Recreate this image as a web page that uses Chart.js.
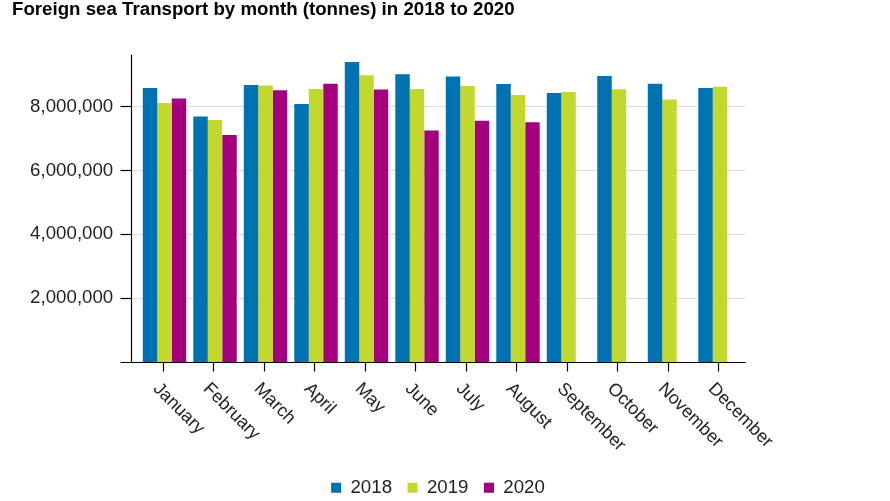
<!DOCTYPE html>
<html><head><meta charset="utf-8">
<script src="https://cdn.jsdelivr.net/npm/chart.js@4.4.0/dist/chart.umd.min.js"></script>
<style>html,body{margin:0;padding:0;background:#fff;overflow:hidden}</style>
</head><body>
<div style="width:890px;height:501px"><canvas id="c" width="890" height="501"></canvas></div>
<script>
const TITLE = "Foreign sea Transport by month (tonnes) in 2018 to 2020";
const months = ["January","February","March","April","May","June","July","August","September","October","November","December"];
const s2018 = [8575000,7690000,8670000,8080000,9390000,9010000,8940000,8700000,8420000,8950000,8710000,8575000];
const s2019 = [8110000,7580000,8660000,8550000,8980000,8550000,8640000,8360000,8450000,8540000,8220000,8620000];
const s2020 = [8250000,7110000,8510000,8710000,8530000,7250000,7550000,7510000,null,null,null,null];
const seriesNames = ["2018","2019","2020"];
const seriesColors = ["#0072b1","#c2d82e","#a4007e"];
const yTickValues = [2000000,4000000,6000000,8000000];
const yMax = 9620000;

const FONT = "Arial, 'Liberation Sans', sans-serif";

const axesPlugin = {
  id: 'axesPlugin',
  afterLayout(chart) {
    if (chart.legend) { chart.legend.left -= 13; chart.legend.right -= 13; }
  },
  beforeDatasetsDraw(chart) {
    const {ctx, chartArea} = chart;
    const ys = chart.scales.y;
    const axX = chartArea.left - 8.25;
    ctx.save();
    ctx.strokeStyle = '#dcdcdc';
    ctx.lineWidth = 1;
    yTickValues.forEach(v => {
      const y = Math.round(ys.getPixelForValue(v)) + 0.5;
      ctx.beginPath(); ctx.moveTo(axX, y); ctx.lineTo(chartArea.right, y); ctx.stroke();
    });
    ctx.restore();
  },
  afterDatasetsDraw(chart) {
    const {ctx, chartArea} = chart;
    const ys = chart.scales.y, xs = chart.scales.x;
    const axX = Math.round(chartArea.left - 8.25) + 0.5;
    const baseY = Math.round(ys.getPixelForValue(0)) + 0.5;
    ctx.save();
    ctx.strokeStyle = '#000';
    ctx.lineWidth = 1.2;
    ctx.beginPath(); ctx.moveTo(axX, chartArea.top); ctx.lineTo(axX, baseY); ctx.stroke();
    ctx.beginPath(); ctx.moveTo(axX - 11, baseY); ctx.lineTo(chartArea.right + 0.5, baseY); ctx.stroke();
    yTickValues.forEach(v => {
      const y = Math.round(ys.getPixelForValue(v)) + 0.5;
      ctx.beginPath(); ctx.moveTo(axX - 11, y); ctx.lineTo(axX, y); ctx.stroke();
    });
    ctx.font = "18px " + FONT;
    ctx.fillStyle = '#222';
    ctx.textAlign = 'left';
    ctx.textBaseline = 'alphabetic';
    months.forEach((m, i) => {
      const x = Math.round(xs.getPixelForValue(i)) - 1.5;
      ctx.beginPath(); ctx.moveTo(x, baseY); ctx.lineTo(x, baseY + 9); ctx.stroke();
      ctx.save();
      ctx.translate(x - 11, baseY + 27);
      ctx.rotate(Math.PI / 4);
      ctx.fillText(m, 0, 0);
      ctx.restore();
    });
    ctx.restore();
  }
};

new Chart(document.getElementById('c'), {
  type: 'bar',
  data: {
    labels: months,
    datasets: [s2018, s2019, s2020].map((d, i) => ({
      label: seriesNames[i],
      data: d,
      backgroundColor: seriesColors[i],
      borderWidth: 0,
      barPercentage: 1,
      categoryPercentage: 0.86
    }))
  },
  options: {
    responsive: false,
    animation: false,
    devicePixelRatio: 1,
    layout: { padding: { left: 12, top: 0, right: 0, bottom: -6 } },
    plugins: {
      tooltip: { enabled: false },
      title: {
        display: true, text: TITLE, align: 'start', color: '#000',
        font: { family: FONT, size: 18.7, weight: 'bold', lineHeight: 1 },
        padding: { top: 0.5, bottom: 35.5 }
      },
      legend: {
        display: true, position: 'bottom',
        labels: {
          boxWidth: 10, boxHeight: 10, padding: 15.5, color: '#222',
          font: { family: FONT, size: 18.7 }
        }
      }
    },
    scales: {
      x: {
        grid: { display: false, drawTicks: false },
        border: { display: false },
        ticks: { display: false },
        afterFit: s => { s.height = 100.6; }
      },
      y: {
        min: 0, max: yMax,
        grid: { display: false, drawTicks: false },
        border: { display: false },
        afterBuildTicks: s => { s.ticks = yTickValues.map(v => ({ value: v })); },
        ticks: {
          padding: 26, color: '#222',
          font: { family: FONT, size: 18.7 },
          callback: v => Number(v).toLocaleString('en-US')
        },
        afterFit: s => { s.width = 127.25; s.paddingTop = 0; s.paddingBottom = 0; }
      },
      y2: {
        position: 'right', display: true,
        grid: { display: false, drawTicks: false },
        border: { display: false },
        ticks: { display: false },
        afterFit: s => { s.width = 144.75; s.paddingTop = 0; s.paddingBottom = 0; }
      }
    }
  },
  plugins: [axesPlugin]
});
</script>
</body></html>
